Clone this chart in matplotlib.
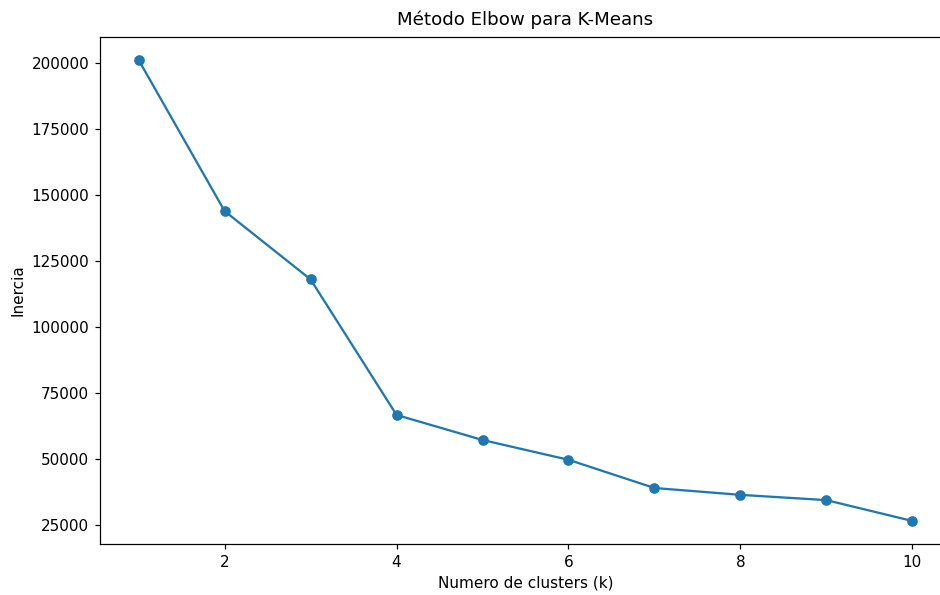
import matplotlib
matplotlib.use("Agg")
import matplotlib.pyplot as plt

k_values = [1, 2, 3, 4, 5, 6, 7, 8, 9, 10]
inercia = [201200, 143900, 118000, 66600, 57100, 49600, 38900, 36300, 34300, 26400]

# the reference is a cropped figure, so the axes run past the right edge
DPI = 109.5
W, H = 940, 595
fig = plt.figure(figsize=(W / DPI, H / DPI), dpi=DPI)
ax = fig.add_axes([100 / W, 1 - 544 / H, 851 / W, 507 / H])

ax.plot(k_values, inercia, marker="o")

ax.set_title("Método Elbow para K-Means", y=1.005)
ax.set_xlabel("Numero de clusters (k)")
ax.set_ylabel("Inercia")
ax.spines["right"].set_visible(False)  # cut off in the reference

fig.savefig("out.png", dpi=DPI)
